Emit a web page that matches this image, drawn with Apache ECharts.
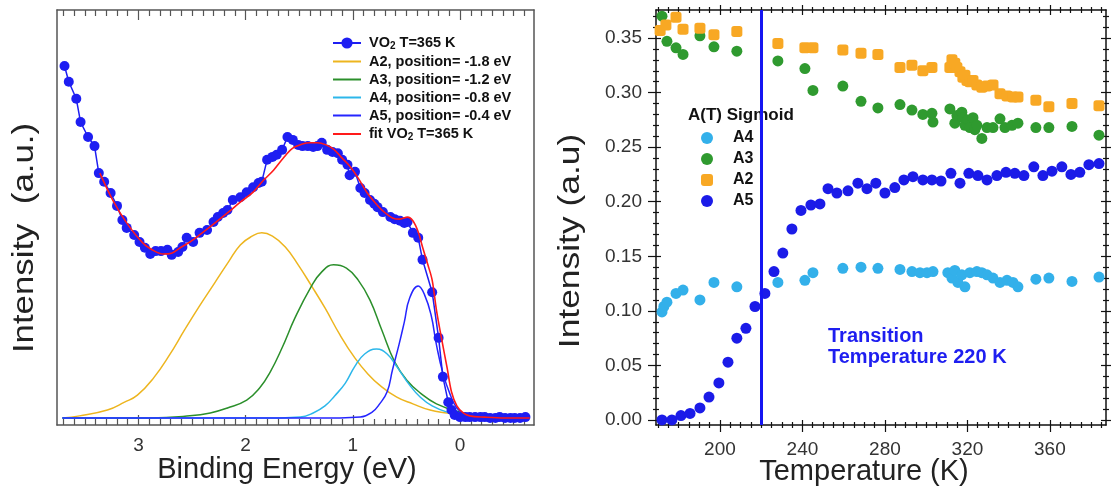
<!DOCTYPE html>
<html>
<head>
<meta charset="utf-8">
<script src="https://cdn.jsdelivr.net/npm/echarts@6/dist/echarts.min.js"></script>
<style>
  html, body { margin: 0; padding: 0; background: #ffffff; }
  #chart { width: 1114px; height: 495px; }
</style>
</head>
<body>
<div id="chart"></div>
<script>
// ---------- Valence-band spectrum of VO2 at 365 K ----------
// binding energy (eV) and intensity (a.u.) of the measured points
const vo2Energy = [3.69, 3.65, 3.58, 3.54, 3.47, 3.41, 3.37, 3.32, 3.26, 3.20,
  3.15, 3.11, 3.04, 2.99, 2.94, 2.89, 2.84, 2.79, 2.73, 2.69,
  2.63, 2.59, 2.55, 2.49, 2.43, 2.36, 2.30, 2.26, 2.21, 2.17,
  2.12, 2.05, 1.99, 1.93, 1.88, 1.85, 1.80, 1.75, 1.71, 1.66,
  1.61, 1.56, 1.51, 1.47, 1.42, 1.37, 1.33, 1.29, 1.24, 1.19,
  1.14, 1.10, 1.05, 1.03, 0.98, 0.93, 0.89, 0.84, 0.80, 0.77,
  0.72, 0.65, 0.61, 0.56, 0.52, 0.49, 0.44, 0.39, 0.35, 0.26,
  0.20, 0.16, 0.11, 0.08, 0.05, 0.00, -0.05, -0.09, -0.14, -0.19,
  -0.23, -0.28, -0.33, -0.37, -0.42, -0.47, -0.51, -0.56, -0.61];
const vo2Intensity = [86.5, 82.7, 78.6, 73.0, 69.4, 67.2, 60.7, 58.6, 55.9, 52.8,
  49.4, 47.5, 45.8, 44.1, 42.7, 41.2, 41.9, 41.9, 42.2, 41.0,
  41.7, 42.9, 45.1, 44.1, 46.3, 47.0, 48.9, 50.1, 51.1, 51.8,
  54.2, 54.9, 56.1, 57.3, 58.3, 58.6, 63.9, 64.6, 65.1, 66.3,
  69.4, 68.7, 67.5, 67.2, 67.2, 67.0, 67.2, 68.0, 66.3, 65.8,
  65.5, 63.9, 62.7, 60.2, 61.0, 57.1, 55.9, 54.2, 53.3, 52.5,
  51.3, 50.1, 49.6, 49.2, 48.7, 48.9, 46.3, 45.1, 39.8, 32.0,
  21.0, 11.6, 5.5, 3.6, 2.4, 1.9, 1.9, 1.9, 1.9, 1.9,
  1.9, 1.7, 1.7, 1.9, 1.7, 1.7, 1.7, 1.7, 1.9];

// total fit
const fitEnergy = [3.36, 3.24, 3.11, 2.96, 2.85, 2.77, 2.69, 2.61, 2.52, 2.43,
  2.30, 2.17, 2.05, 1.93, 1.84, 1.74, 1.65, 1.56, 1.47, 1.40,
  1.33, 1.25, 1.18, 1.10, 1.03, 0.95, 0.87, 0.79, 0.72, 0.63,
  0.56, 0.49, 0.44, 0.39, 0.35, 0.30, 0.26, 0.22, 0.17, 0.12,
  0.08, 0.03, -0.03, -0.09, -0.23, -0.42, -0.65];
const fitIntensity = [60.7, 54.2, 48.7, 43.9, 41.9, 41.2, 41.4, 42.7, 44.1, 45.8,
  48.4, 51.1, 53.7, 56.1, 58.8, 61.4, 64.3, 66.7, 67.7, 68.0,
  68.0, 67.5, 66.5, 64.3, 62.4, 59.5, 56.1, 53.5, 51.6, 49.9,
  49.6, 50.1, 49.2, 46.5, 42.9, 38.6, 34.9, 27.7, 20.5, 13.7,
  8.0, 4.6, 2.9, 2.2, 1.9, 1.7, 1.7];

// fitted components
const a2Energy = [3.71, 3.55, 3.29, 3.13, 3.01, 2.86, 2.71, 2.57, 2.43, 2.29,
  2.16, 2.05, 1.94, 1.85, 1.75, 1.63, 1.51, 1.39, 1.26, 1.12,
  0.98, 0.86, 0.75, 0.59, 0.44, 0.28, 0.12, -0.07, -0.28, -0.61];
const a2Intensity = [1.7, 2.2, 3.6, 5.5, 7.2, 11.3, 16.9, 22.9, 28.7, 34.2,
  39.3, 43.4, 45.5, 46.3, 45.5, 42.9, 38.6, 33.7, 28.2, 21.7,
  16.1, 12.3, 9.6, 6.7, 5.1, 3.6, 2.9, 2.2, 1.9, 1.7];

const a3Energy = [3.71, 2.89, 2.52, 2.33, 2.17, 1.99, 1.87, 1.77, 1.66, 1.54,
  1.39, 1.29, 1.18, 1.06, 0.95, 0.84, 0.73, 0.61, 0.49, 0.37,
  0.22, 0.00, -0.19, -0.37, -0.61];
const a3Intensity = [1.7, 1.7, 2.2, 2.9, 4.1, 6.0, 8.9, 12.8, 18.6, 25.8,
  33.3, 36.9, 38.6, 37.8, 34.9, 30.1, 22.9, 15.2, 10.6, 7.7,
  5.1, 3.1, 2.2, 1.9, 1.7];

const a4Energy = [3.71, 1.68, 1.49, 1.37, 1.26, 1.17, 1.07, 0.98, 0.89, 0.78,
  0.68, 0.58, 0.47, 0.37, 0.26, 0.12, -0.05, -0.28, -0.61];
const a4Intensity = [1.7, 1.7, 1.9, 2.9, 4.6, 7.0, 10.1, 14.2, 17.1, 18.3,
  17.1, 13.7, 9.6, 6.7, 4.6, 3.1, 2.2, 1.7, 1.7];

const a5Energy = [3.71, 1.12, 0.93, 0.82, 0.75, 0.68, 0.63, 0.57, 0.52, 0.47,
  0.39, 0.33, 0.27, 0.22, 0.16, 0.09, 0.03, -0.05, -0.19, -0.61];
const a5Intensity = [1.7, 1.7, 1.9, 3.1, 5.1, 8.0, 13.3, 19.3, 24.8, 30.6,
  33.5, 31.3, 26.5, 19.3, 12.5, 7.2, 4.1, 2.4, 1.7, 1.7];

const energyMajorTicks = [0, 1, 2, 3];
const energyLabels = ['0', '1', '2', '3'];

// ---------- Temperature dependence of the component amplitudes ----------
const a4Temp = [171.9, 172.8, 174.3, 178.7, 182.1, 190.3, 197.1, 208.2, 228.1, 241.2,
  245.1, 259.6, 268.4, 276.6, 287.3, 293.1, 297.0, 300.4, 303.3, 310.5,
  312.5, 313.9, 315.4, 317.3, 318.8, 321.2, 324.6, 327.0, 329.5, 332.4,
  335.8, 339.2, 342.1, 344.5, 353.2, 359.5, 370.7, 383.8];
const a4Amp = [0.099, 0.104, 0.108, 0.116, 0.119, 0.110, 0.126, 0.122, 0.126, 0.128,
  0.135, 0.139, 0.140, 0.139, 0.138, 0.136, 0.135, 0.135, 0.136, 0.135,
  0.130, 0.137, 0.126, 0.133, 0.122, 0.135, 0.136, 0.135, 0.133, 0.130,
  0.126, 0.128, 0.126, 0.122, 0.129, 0.130, 0.127, 0.131];

const a3Temp = [171.9, 174.3, 178.7, 182.1, 190.3, 197.1, 208.2, 228.1, 241.2, 245.1,
  259.6, 268.4, 276.6, 287.3, 293.1, 298.4, 302.8, 303.3, 311.5, 313.9,
  314.9, 317.3, 317.8, 318.8, 320.2, 321.2, 322.7, 323.6, 324.6, 327.0,
  329.5, 332.4, 335.8, 338.2, 341.6, 344.5, 353.2, 359.5, 370.7, 383.8];
const a3Amp = [0.370, 0.347, 0.341, 0.335, 0.352, 0.342, 0.338, 0.329, 0.322, 0.302,
  0.306, 0.292, 0.286, 0.289, 0.284, 0.280, 0.281, 0.273, 0.285, 0.272,
  0.279, 0.282, 0.277, 0.270, 0.275, 0.268, 0.277, 0.266, 0.270, 0.258,
  0.268, 0.268, 0.276, 0.268, 0.270, 0.272, 0.268, 0.268, 0.269, 0.261];

const a2Temp = [171.0, 173.8, 178.7, 182.1, 190.3, 197.1, 208.2, 228.1, 241.2, 245.1,
  259.6, 268.4, 276.6, 287.3, 293.1, 298.4, 302.8, 311.5, 312.5, 313.9,
  314.9, 316.4, 317.8, 318.8, 319.8, 321.2, 322.7, 324.6, 327.0, 329.5,
  332.4, 335.8, 339.2, 342.1, 344.5, 353.2, 359.5, 370.7, 383.8];
const a2Amp = [0.357, 0.362, 0.369, 0.358, 0.359, 0.353, 0.356, 0.345, 0.341, 0.341,
  0.339, 0.336, 0.335, 0.323, 0.325, 0.320, 0.323, 0.323, 0.330, 0.327,
  0.323, 0.319, 0.314, 0.316, 0.311, 0.310, 0.311, 0.307, 0.305, 0.306,
  0.307, 0.299, 0.297, 0.296, 0.296, 0.293, 0.287, 0.290, 0.288];

const a5Temp = [171.9, 176.7, 181.1, 185.5, 190.3, 194.7, 199.5, 203.9, 208.2, 212.6,
  217.0, 221.8, 226.2, 230.5, 234.9, 239.3, 244.1, 248.5, 252.4, 256.7,
  262.1, 266.9, 271.3, 275.6, 280.0, 284.8, 289.2, 293.6, 298.4, 302.8,
  307.2, 312.0, 316.4, 320.7, 325.1, 329.5, 334.3, 338.7, 343.0, 347.4,
  352.2, 356.6, 361.0, 365.8, 370.2, 374.5, 378.9, 383.8];
const a5Amp = [0.000, 0.000, 0.004, 0.006, 0.011, 0.021, 0.034, 0.053, 0.075, 0.084,
  0.104, 0.116, 0.136, 0.153, 0.175, 0.192, 0.197, 0.198, 0.212, 0.208,
  0.210, 0.217, 0.212, 0.217, 0.208, 0.213, 0.220, 0.223, 0.220, 0.220,
  0.219, 0.226, 0.217, 0.226, 0.224, 0.220, 0.224, 0.227, 0.226, 0.224,
  0.232, 0.224, 0.228, 0.232, 0.225, 0.227, 0.234, 0.235];

const tempMajorTicks = [200, 240, 280, 320, 360];
const ampMajorTicks = [0, 0.05, 0.10, 0.15, 0.20, 0.25, 0.30, 0.35];
const transitionTemperature = 220;

// ---------- helpers ----------
const FONT = '"Liberation Sans", Arial, Helvetica, sans-serif';
const zip = (xs, ys) => xs.map((x, i) => [x, ys[i]]);
function stepTicks(from, to, step, majors) {
  const out = [];
  const n = Math.round((to - from) / step);
  for (let i = 0; i <= n; i++) {
    const v = +(from + i * step).toFixed(4);
    if (!majors.some(m => Math.abs(m - v) < 1e-6)) out.push(v);
  }
  return out;
}
const energyMinorTicks = stepTicks(-0.6, 3.7, 0.1, energyMajorTicks);
const tempMinorTicks = stepTicks(170, 385, 5, tempMajorTicks);
const ampMinorTicks = stepTicks(0, 0.37, 0.01, ampMajorTicks);

function valueAxis(o) {
  return {
    type: 'value', gridIndex: o.grid, position: o.pos,
    min: o.min, max: o.max, inverse: !!o.inverse,
    axisLine: { show: !!o.line, onZero: false, lineStyle: { color: o.color, width: 1.5 } },
    axisTick: o.ticks ? { show: true, inside: !!o.inside, length: o.len,
      customValues: o.ticks, lineStyle: { color: o.color, width: 1.2 } } : { show: false },
    axisLabel: o.labels ? { show: true, customValues: o.labels, margin: o.margin,
      fontSize: 19, color: '#333', fontFamily: FONT, formatter: o.fmt } : { show: false },
    splitLine: { show: false },
    silent: true
  };
}

const LEFT = { min: -0.69, max: 3.76, color: '#555' };
const RX = { min: 169, max: 387.2, color: '#111' };
const RY = { min: -0.0046, max: 0.3757, color: '#111' };

const xAxes = [
  // spectrum: bottom and top frame with inward ticks
  valueAxis({ grid: 0, pos: 'bottom', ...LEFT, inverse: true, line: true, ticks: energyMajorTicks, inside: true, len: 10,
    labels: energyMajorTicks, margin: 11, fmt: v => energyLabels[energyMajorTicks.indexOf(v)] ?? String(v) }),
  valueAxis({ grid: 0, pos: 'bottom', ...LEFT, inverse: true, ticks: energyMinorTicks, inside: true, len: 6 }),
  valueAxis({ grid: 0, pos: 'top', ...LEFT, inverse: true, line: true, ticks: energyMajorTicks, inside: true, len: 10 }),
  valueAxis({ grid: 0, pos: 'top', ...LEFT, inverse: true, ticks: energyMinorTicks, inside: true, len: 6 }),
  // temperature panel: ticks crossing the frame
  valueAxis({ grid: 1, pos: 'bottom', ...RX, line: true, ticks: tempMajorTicks, inside: false, len: 7,
    labels: tempMajorTicks, margin: 15, fmt: v => String(v) }),
  valueAxis({ grid: 1, pos: 'bottom', ...RX, ticks: tempMajorTicks, inside: true, len: 5 }),
  valueAxis({ grid: 1, pos: 'bottom', ...RX, ticks: tempMinorTicks, inside: false, len: 3 }),
  valueAxis({ grid: 1, pos: 'bottom', ...RX, ticks: tempMinorTicks, inside: true, len: 3 }),
  valueAxis({ grid: 1, pos: 'top', ...RX, line: true, ticks: tempMajorTicks, inside: false, len: 5 }),
  valueAxis({ grid: 1, pos: 'top', ...RX, ticks: tempMajorTicks, inside: true, len: 5 }),
  valueAxis({ grid: 1, pos: 'top', ...RX, ticks: tempMinorTicks, inside: false, len: 3 }),
  valueAxis({ grid: 1, pos: 'top', ...RX, ticks: tempMinorTicks, inside: true, len: 3 })
];

const yAxes = [
  valueAxis({ grid: 0, pos: 'left', min: 0, max: 100, color: '#555', line: true }),
  valueAxis({ grid: 0, pos: 'right', min: 0, max: 100, color: '#555', line: true }),
  valueAxis({ grid: 1, pos: 'left', ...RY, line: true, ticks: ampMajorTicks, inside: false, len: 8,
    labels: ampMajorTicks, margin: 14, fmt: v => v.toFixed(2) }),
  valueAxis({ grid: 1, pos: 'left', ...RY, ticks: ampMajorTicks, inside: true, len: 5 }),
  valueAxis({ grid: 1, pos: 'left', ...RY, ticks: ampMinorTicks, inside: false, len: 3 }),
  valueAxis({ grid: 1, pos: 'left', ...RY, ticks: ampMinorTicks, inside: true, len: 3 }),
  valueAxis({ grid: 1, pos: 'right', ...RY, line: true, ticks: ampMajorTicks, inside: false, len: 5 }),
  valueAxis({ grid: 1, pos: 'right', ...RY, ticks: ampMajorTicks, inside: true, len: 5 }),
  valueAxis({ grid: 1, pos: 'right', ...RY, ticks: ampMinorTicks, inside: false, len: 3 }),
  valueAxis({ grid: 1, pos: 'right', ...RY, ticks: ampMinorTicks, inside: true, len: 3 })
];

function component(name, energy, intensity, color) {
  return {
    name, type: 'line', xAxisIndex: 0, yAxisIndex: 0,
    data: zip(energy, intensity), smooth: 0.45, symbol: 'none',
    lineStyle: { color, width: 1.5 }, itemStyle: { color }, z: 2
  };
}
function scatter(name, temp, amp, color, symbol) {
  return {
    name, type: 'scatter', xAxisIndex: 4, yAxisIndex: 2,
    data: zip(temp, amp), symbol, symbolSize: 11,
    itemStyle: { color, opacity: 1 }, z: 3
  };
}

const VO2_NAME = 'VO2 T=365 K';
const FIT_NAME = 'fit VO2 T=365 K';
const A2_NAME = 'A2, position= -1.8 eV';
const A3_NAME = 'A3, position= -1.2 eV';
const A4_NAME = 'A4, position= -0.8 eV';
const A5_NAME = 'A5, position= -0.4 eV';
const C = { a2: '#edb51f', a3: '#2b8f2b', a4: '#2db7ea', a5: '#2525ff', data: '#1e1ef2', fit: '#ff1a1a' };
const T = { a4: '#33b0ea', a3: '#2f9a2f', a2: '#f8a824', a5: '#1b1be8', line: '#1515f2' };

const series = [
  component(A2_NAME, a2Energy, a2Intensity, C.a2),
  component(A3_NAME, a3Energy, a3Intensity, C.a3),
  component(A4_NAME, a4Energy, a4Intensity, C.a4),
  component(A5_NAME, a5Energy, a5Intensity, C.a5),
  {
    name: VO2_NAME, type: 'line', xAxisIndex: 0, yAxisIndex: 0,
    data: zip(vo2Energy, vo2Intensity), symbol: 'circle', symbolSize: 10, showSymbol: true,
    lineStyle: { color: C.data, width: 1.5 }, itemStyle: { color: C.data }, z: 4
  },
  {
    name: FIT_NAME, type: 'line', xAxisIndex: 0, yAxisIndex: 0,
    data: zip(fitEnergy, fitIntensity), smooth: 0.35, symbol: 'none',
    lineStyle: { color: C.fit, width: 1.6 }, itemStyle: { color: C.fit }, z: 5
  },
  scatter('A4', a4Temp, a4Amp, T.a4, 'circle'),
  scatter('A3', a3Temp, a3Amp, T.a3, 'circle'),
  scatter('A2', a2Temp, a2Amp, T.a2, 'roundRect'),
  Object.assign(scatter('A5', a5Temp, a5Amp, T.a5, 'circle'), {
    markLine: {
      silent: true, symbol: ['none', 'none'], label: { show: false },
      lineStyle: { color: T.line, width: 3, type: 'solid', opacity: 1 },
      emphasis: { disabled: true },
      data: [{ xAxis: transitionTemperature }]
    }
  })
];

const subFormatter = name => name.replace('VO2', 'VO{sub|2}');
// legend entries of the pure-line series show only the line
const lineOnly = name => ({ name, itemStyle: { opacity: 0 } });

const option = {
  animation: false,
  backgroundColor: '#ffffff',
  grid: [
    { left: 57, top: 10, width: 477, height: 415 },
    { left: 656, top: 10, width: 450, height: 415 }
  ],
  xAxis: xAxes,
  yAxis: yAxes,
  legend: [
    {
      data: [VO2_NAME, lineOnly(A2_NAME), lineOnly(A3_NAME), lineOnly(A4_NAME), lineOnly(A5_NAME), lineOnly(FIT_NAME)],
      orient: 'vertical', left: 332, top: 35, padding: 0, itemWidth: 28, itemHeight: 14, itemGap: 3,
      selectedMode: false, formatter: subFormatter,
      textStyle: { fontFamily: FONT, fontWeight: 'bold', fontSize: 14.5, color: '#111', padding: [0, 0, 0, 3], lineHeight: 15,
        rich: { sub: { fontFamily: FONT, fontWeight: 'bold', fontSize: 10, color: '#111', lineHeight: 15, padding: [6, 0, 0, 0] } } }
    },
    {
      data: ['A4', 'A3', 'A2', 'A5'],
      orient: 'vertical', left: 701, top: 130, padding: 0, itemWidth: 12, itemHeight: 12, itemGap: 5,
      selectedMode: false,
      textStyle: { fontFamily: FONT, fontWeight: 'bold', fontSize: 16, color: '#111', padding: [0, 0, 0, 15], lineHeight: 16 }
    }
  ],
  graphic: [
    { type: 'text', x: 287, y: 470, silent: true,
      style: { text: 'Binding Energy (eV)', fontFamily: FONT, fontSize: 29, fill: '#222', align: 'center', verticalAlign: 'middle' } },
    { type: 'text', x: 864, y: 472, silent: true,
      style: { text: 'Temperature (K)', fontFamily: FONT, fontSize: 29, fill: '#222', align: 'center', verticalAlign: 'middle' } },
    { type: 'text', x: 25, y: 238, rotation: Math.PI / 2, scaleX: 1.2, silent: true,
      style: { text: 'Intensity  (a.u.)', fontFamily: FONT, fontSize: 29, fill: '#222', align: 'center', verticalAlign: 'middle' } },
    { type: 'text', x: 571, y: 241, rotation: Math.PI / 2, scaleX: 1.22, silent: true,
      style: { text: 'Intensity (a.u)', fontFamily: FONT, fontSize: 29, fill: '#222', align: 'center', verticalAlign: 'middle' } },
    { type: 'text', x: 688, y: 115, silent: true,
      style: { text: 'A(T) Sigmoid', fontFamily: FONT, fontSize: 17, fontWeight: 'bold', fill: '#111', align: 'left', verticalAlign: 'middle' } },
    { type: 'text', x: 828, y: 347, silent: true,
      style: { text: 'Transition\nTemperature ' + transitionTemperature + ' K', fontFamily: FONT, fontSize: 20,
        fontWeight: 'bold', fill: '#1e1ef0', align: 'left', verticalAlign: 'middle', lineHeight: 21 } }
  ],
  series
};

const chart = echarts.init(document.getElementById('chart'), null, { renderer: 'canvas' });
chart.setOption(option);
</script>
</body>
</html>
